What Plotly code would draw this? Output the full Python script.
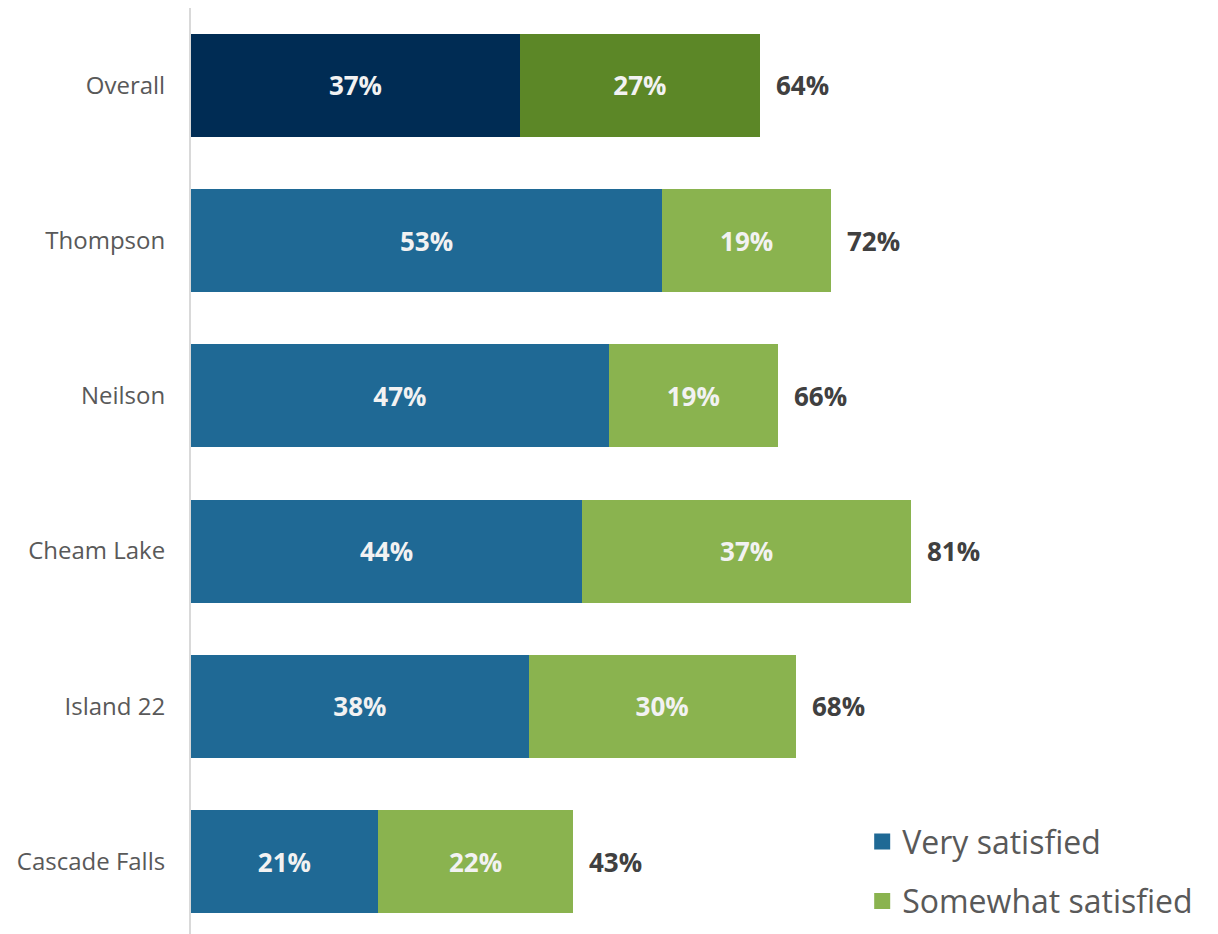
import plotly.graph_objects as go

# Satisfaction by community (percent of respondents)
categories = ["Overall", "Thompson", "Neilson", "Cheam Lake", "Island 22", "Cascade Falls"]
very_satisfied = [37, 53, 47, 44, 38, 21]
somewhat_satisfied = [27, 19, 19, 37, 30, 22]
totals = [64, 72, 66, 81, 68, 43]

series_names = ["Very satisfied", "Somewhat satisfied"]

BLUE = "#1F6995"
GREEN = "#8AB34F"
NAVY = "#002C54"
DARK_GREEN = "#5C8727"

FONT = "Open Sans"

# The "Overall" row is emphasised with darker shades
blue_colors = [NAVY if c == "Overall" else BLUE for c in categories]
green_colors = [DARK_GREEN if c == "Overall" else GREEN for c in categories]

fig = go.Figure()

for name, values, colors in [
    (series_names[0], very_satisfied, blue_colors),
    (series_names[1], somewhat_satisfied, green_colors),
]:
    fig.add_trace(go.Bar(
        y=categories,
        x=values,
        orientation="h",
        name=name,
        marker=dict(color=colors, line=dict(width=0)),
        text=[f"{v}%" for v in values],
        textposition="inside",
        insidetextanchor="middle",
        constraintext="none",
        textfont=dict(family=FONT, size=26, color="#F2F2F2", weight="bold"),
        showlegend=False,
        hoverinfo="skip",
    ))

# Legend entries with larger square swatches
for name, color in [(series_names[0], BLUE), (series_names[1], GREEN)]:
    fig.add_trace(go.Scatter(
        x=[None], y=[None],
        mode="markers",
        name=name,
        legendgroup=name,
        marker=dict(symbol="square", size=20, color=color),
        showlegend=True,
    ))

# Totals to the right of each stacked bar
for cat, tot in zip(categories, totals):
    fig.add_annotation(
        x=tot, y=cat,
        xref="x", yref="y",
        text=f"{tot}%",
        showarrow=False,
        xanchor="left",
        xshift=14,
        font=dict(family=FONT, size=26, color="#404040", weight="bold"),
    )

fig.update_layout(
    width=1218,
    height=934,
    barmode="stack",
    bargap=0.336,
    paper_bgcolor="white",
    plot_bgcolor="white",
    margin=dict(l=191, r=138, t=8, b=0),
    font=dict(family=FONT, color="#595959"),
    xaxis=dict(
        range=[0, 100],
        visible=False,
        showgrid=False,
        zeroline=False,
    ),
    yaxis=dict(
        categoryorder="array",
        categoryarray=categories,
        range=[5.467, -0.499],
        showline=True,
        linecolor="#D9D9D9",
        linewidth=2,
        showgrid=False,
        zeroline=False,
        ticks="",
        ticklabelstandoff=19,
        tickfont=dict(family=FONT, size=24, color="#595959"),
    ),
    legend=dict(
        x=0.755,
        y=0.1295,
        xanchor="left",
        yanchor="top",
        font=dict(family=FONT, size=32, color="#595959"),
        tracegroupgap=15,
        itemsizing="trace",
        bgcolor="rgba(0,0,0,0)",
    ),
)

fig.write_html("out.html")
